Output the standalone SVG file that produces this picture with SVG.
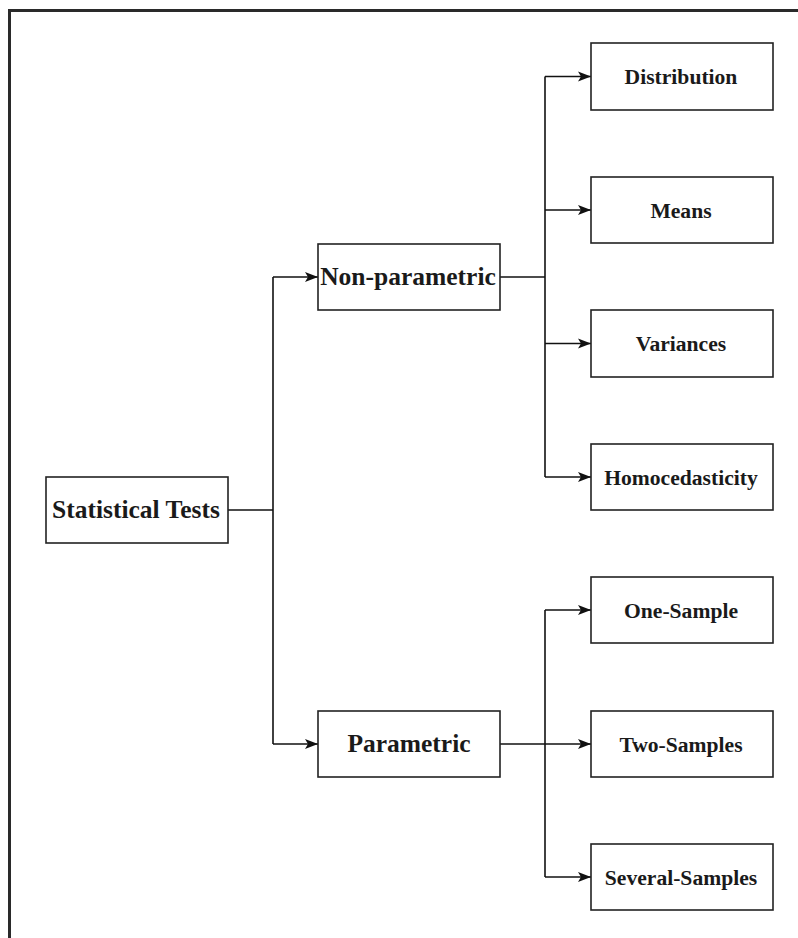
<svg xmlns="http://www.w3.org/2000/svg" width="798" height="938" viewBox="0 0 798 938">
  <style>
    .box { fill: #ffffff; stroke: #222222; stroke-width: 1.6; }
    .lbl { font-family: "Liberation Serif", "Times New Roman", serif; font-weight: bold; fill: #1a1a1a; text-anchor: middle; }
    .big { font-size: 25.5px; }
    .small { font-size: 21.6px; }
    .edge { fill: none; stroke: #111111; stroke-width: 1.6; }
  </style>
  <defs>
    <marker id="arrow" markerUnits="userSpaceOnUse" markerWidth="16" markerHeight="14" viewBox="0 0 16 14" refX="14" refY="7" orient="auto">
      <path d="M1,2 L14,7 L1,12 L4,7 Z" fill="#111111"/>
    </marker>
  </defs>

  <rect x="0" y="0" width="798" height="938" fill="#ffffff"/>
  <!-- page frame -->
  <path d="M9.5,938 V10.5 H798" fill="none" stroke="#2a2a2a" stroke-width="3"/>

  <g id="connectors">
    <!-- root to spine -->
    <path class="edge" d="M228,510 H273"/>
    <path class="edge" d="M273,277 V744"/>
    <path class="edge" d="M273,277 H318" marker-end="url(#arrow)"/>
    <path class="edge" d="M273,744 H318" marker-end="url(#arrow)"/>
    <!-- non-parametric branch -->
    <path class="edge" d="M500,277 H545"/>
    <path class="edge" d="M545,76.5 V477"/>
    <path class="edge" d="M545,76.5 H591" marker-end="url(#arrow)"/>
    <path class="edge" d="M545,210 H591" marker-end="url(#arrow)"/>
    <path class="edge" d="M545,343.5 H591" marker-end="url(#arrow)"/>
    <path class="edge" d="M545,477 H591" marker-end="url(#arrow)"/>
    <!-- parametric branch -->
    <path class="edge" d="M545,610 V877"/>
    <path class="edge" d="M545,610 H591" marker-end="url(#arrow)"/>
    <path class="edge" d="M500,744 H591" marker-end="url(#arrow)"/>
    <path class="edge" d="M545,877 H591" marker-end="url(#arrow)"/>
  </g>

  <g id="statistical-tests">
    <rect class="box" x="46" y="477" width="182" height="66"/>
    <text class="lbl big" x="136" y="518">Statistical Tests</text>
  </g>
  <g id="non-parametric">
    <rect class="box" x="318" y="244" width="182" height="66"/>
    <text class="lbl big" x="408" y="285">Non-parametric</text>
  </g>
  <g id="parametric">
    <rect class="box" x="318" y="711" width="182" height="66"/>
    <text class="lbl big" x="409" y="752">Parametric</text>
  </g>

  <g id="distribution">
    <rect class="box" x="591" y="43" width="182" height="67"/>
    <text class="lbl small" x="681" y="84">Distribution</text>
  </g>
  <g id="means">
    <rect class="box" x="591" y="177" width="182" height="66"/>
    <text class="lbl small" x="681" y="217.5">Means</text>
  </g>
  <g id="variances">
    <rect class="box" x="591" y="310" width="182" height="67"/>
    <text class="lbl small" x="681" y="351">Variances</text>
  </g>
  <g id="homocedasticity">
    <rect class="box" x="591" y="444" width="182" height="66"/>
    <text class="lbl small" x="681" y="484.5">Homocedasticity</text>
  </g>

  <g id="one-sample">
    <rect class="box" x="591" y="577" width="182" height="66"/>
    <text class="lbl small" x="681" y="617.5">One-Sample</text>
  </g>
  <g id="two-samples">
    <rect class="box" x="591" y="711" width="182" height="66"/>
    <text class="lbl small" x="681" y="751.5">Two-Samples</text>
  </g>
  <g id="several-samples">
    <rect class="box" x="591" y="844" width="182" height="66"/>
    <text class="lbl small" x="681" y="884.5">Several-Samples</text>
  </g>
</svg>
